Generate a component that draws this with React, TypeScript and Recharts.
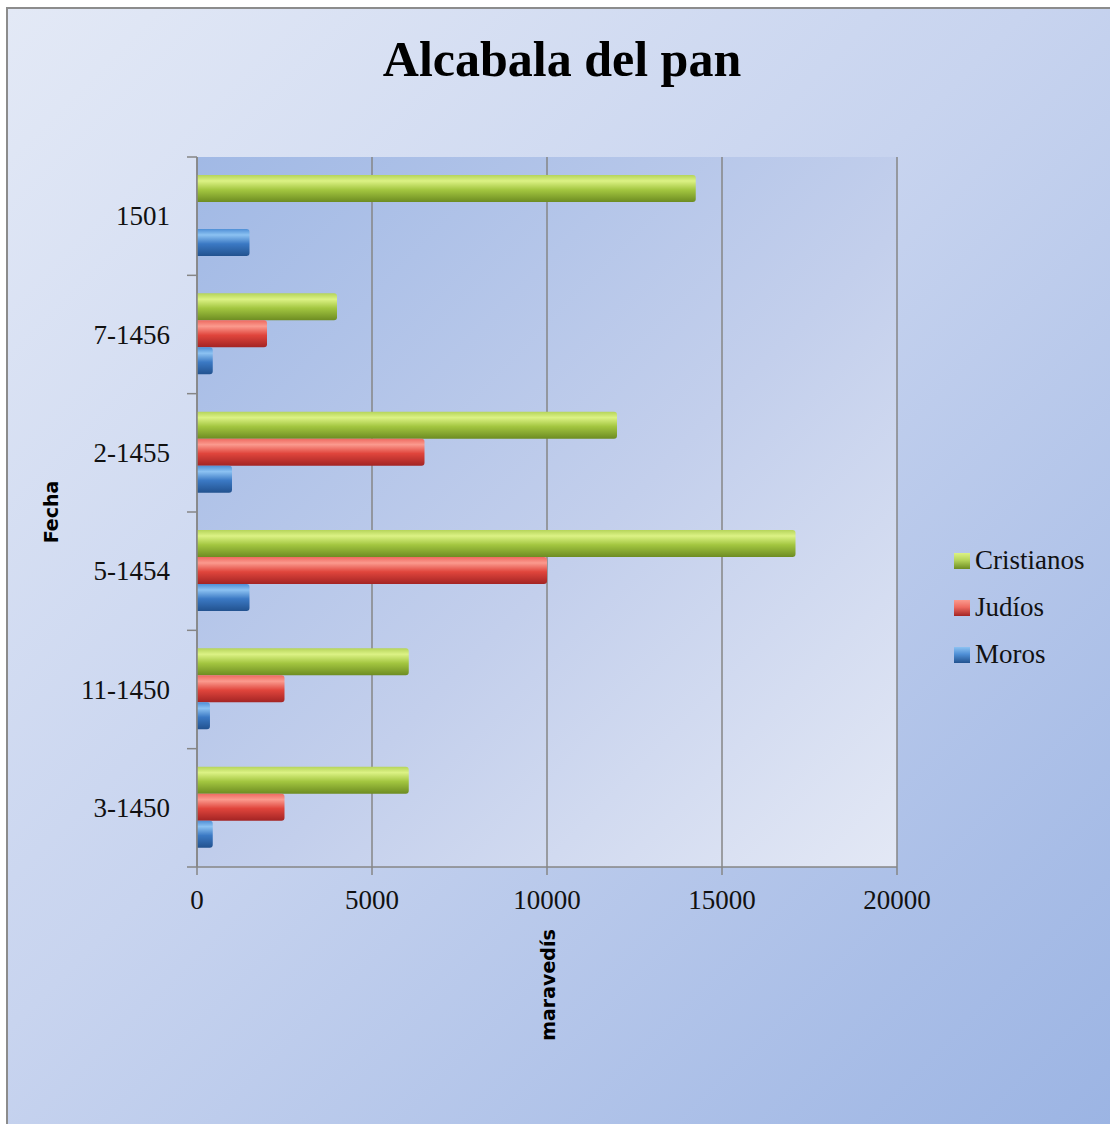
import React from "react";
import { BarChart, Bar, XAxis, YAxis, CartesianGrid, Legend, Label } from "recharts";

// Alcabala del pan (maravedís por fecha)
const fechas = ["1501", "7-1456", "2-1455", "5-1454", "11-1450", "3-1450"];
const cristianos = [14250, 4000, 12000, 17100, 6050, 6050];
const judios = [null, 2000, 6500, 10000, 2500, 2500];
const moros = [1500, 450, 1000, 1500, 370, 450];
const xTicks = [0, 5000, 10000, 15000, 20000];

const data = fechas.map((fecha, i) => ({
  fecha,
  Cristianos: cristianos[i],
  "Judíos": judios[i],
  Moros: moros[i],
}));

const series = [
  { key: "Cristianos", grad: "gCris", stops: ["#b5d45a", "#dcf285", "#a3c640", "#6d8c22"] },
  { key: "Judíos", grad: "gJud", stops: ["#ee6a60", "#fb9a8e", "#e0453c", "#a32424"] },
  { key: "Moros", grad: "gMor", stops: ["#4f8fd6", "#8cc2f2", "#3b79c4", "#22528f"] },
];

const W = 1110;
const H = 1124;
const PLOT_TOP = 157;
const PLOT_BOTTOM = 867;
const AXIS_X = 197;
const BAND = (PLOT_BOTTOM - PLOT_TOP) / fechas.length;
const AXIS_COLOR = "#868686";
const SERIF = "'Liberation Serif', 'DejaVu Serif', serif";
const SANS = "'DejaVu Sans', sans-serif";

const FechaTick = (props: any) => {
  const { y, payload, index } = props;
  return (
    <g>
      <line x1={AXIS_X - 10} x2={AXIS_X} y1={y - BAND / 2} y2={y - BAND / 2} stroke={AXIS_COLOR} strokeWidth={1.5} />
      {index === fechas.length - 1 && (
        <line x1={AXIS_X - 10} x2={AXIS_X} y1={y + BAND / 2} y2={y + BAND / 2} stroke={AXIS_COLOR} strokeWidth={1.5} />
      )}
      <text x={AXIS_X - 27} y={y} textAnchor="end" dominantBaseline="central" fontFamily={SERIF} fontSize={27} fill="#111">
        {payload.value}
      </text>
    </g>
  );
};

const LegendBox = () => (
  <div style={{ fontFamily: SERIF, fontSize: 27, color: "#111" }}>
    {series.map((s) => (
      <div key={s.key} style={{ display: "flex", alignItems: "center", height: 47 }}>
        <span
          style={{
            width: 16,
            height: 16,
            marginRight: 5,
            background: `linear-gradient(${s.stops[1]}, ${s.stops[0]} 45%, ${s.stops[3]})`,
          }}
        />
        {s.key}
      </div>
    ))}
  </div>
);

export default function App() {
  return (
    <div
      style={{
        position: "absolute",
        left: 0,
        top: 0,
        width: W,
        height: H,
        overflow: "hidden",
      }}
    >
      <div
        style={{
          position: "absolute",
          left: 6,
          top: 7,
          width: 1130,
          height: 1140,
          boxSizing: "border-box",
          borderLeft: "2px solid #8c8c8c",
          borderTop: "2px solid #8c8c8c",
          background: "linear-gradient(135deg, #e3e9f6 0%, #c8d4ef 45%, #9ab3e3 100%)",
        }}
      />
      <div
        style={{
          position: "absolute",
          left: 7,
          width: W,
          top: 30,
          textAlign: "center",
          fontFamily: SERIF,
          fontWeight: "bold",
          fontSize: 50,
          color: "#000",
        }}
      >
        Alcabala del pan
      </div>
      <div style={{ position: "absolute", left: 0, top: 0 }}>
        <BarChart
          width={W}
          height={H}
          data={data}
          layout="vertical"
          margin={{ top: PLOT_TOP, right: W - 897, bottom: 57, left: 0 }}
          barCategoryGap={18}
          barGap={0}
        >
          <defs>
            {series.map((s) => (
              <linearGradient key={s.grad} id={s.grad} x1="0" y1="0" x2="0" y2="1">
                <stop offset="0%" stopColor={s.stops[0]} />
                <stop offset="22%" stopColor={s.stops[1]} />
                <stop offset="55%" stopColor={s.stops[2]} />
                <stop offset="100%" stopColor={s.stops[3]} />
              </linearGradient>
            ))}
            <linearGradient id="plotBg" x1="0" y1="0" x2="1" y2="1">
              <stop offset="0%" stopColor="#a1b9e5" />
              <stop offset="55%" stopColor="#c3cfec" />
              <stop offset="100%" stopColor="#e3e8f5" />
            </linearGradient>
          </defs>
          <CartesianGrid horizontal={false} stroke={AXIS_COLOR} strokeWidth={1.5} fill="url(#plotBg)" fillOpacity={1} />
          <XAxis
            type="number"
            domain={[0, 20000]}
            ticks={xTicks}
            interval={0}
            height={200}
            tickSize={8}
            tickMargin={15}
            axisLine={{ stroke: AXIS_COLOR, strokeWidth: 1.5 }}
            tickLine={{ stroke: AXIS_COLOR, strokeWidth: 1.5 }}
            tick={{ fontFamily: SERIF, fontSize: 27, fill: "#111" }}
          >
            <Label
              content={() => (
                <text
                  x={548}
                  y={985}
                  transform="rotate(-90 548 985)"
                  textAnchor="middle"
                  dominantBaseline="central"
                  fontFamily={SANS}
                  fontWeight="bold"
                  fontSize={19}
                  fill="#000"
                >
                  maravedís
                </text>
              )}
            />
          </XAxis>
          <YAxis
            type="category"
            dataKey="fecha"
            width={AXIS_X}
            interval={0}
            tickLine={false}
            axisLine={{ stroke: AXIS_COLOR, strokeWidth: 1.5 }}
            tick={<FechaTick />}
          >
            <Label
              content={() => (
                <text
                  x={51}
                  y={512}
                  transform="rotate(-90 51 512)"
                  textAnchor="middle"
                  dominantBaseline="central"
                  fontFamily={SANS}
                  fontWeight="bold"
                  fontSize={19}
                  fill="#000"
                >
                  Fecha
                </text>
              )}
            />
          </YAxis>
          <Legend
            layout="vertical"
            align="center"
            verticalAlign="middle"
            wrapperStyle={{ left: 954, top: 537, width: 156 }}
            content={() => <LegendBox />}
          />
          {series.map((s) => (
            <Bar
              key={s.key}
              dataKey={s.key}
              name={s.key}
              fill={`url(#${s.grad})`}
              radius={[0, 3, 3, 0]}
              isAnimationActive={false}
            />
          ))}
        </BarChart>
      </div>
    </div>
  );
}
